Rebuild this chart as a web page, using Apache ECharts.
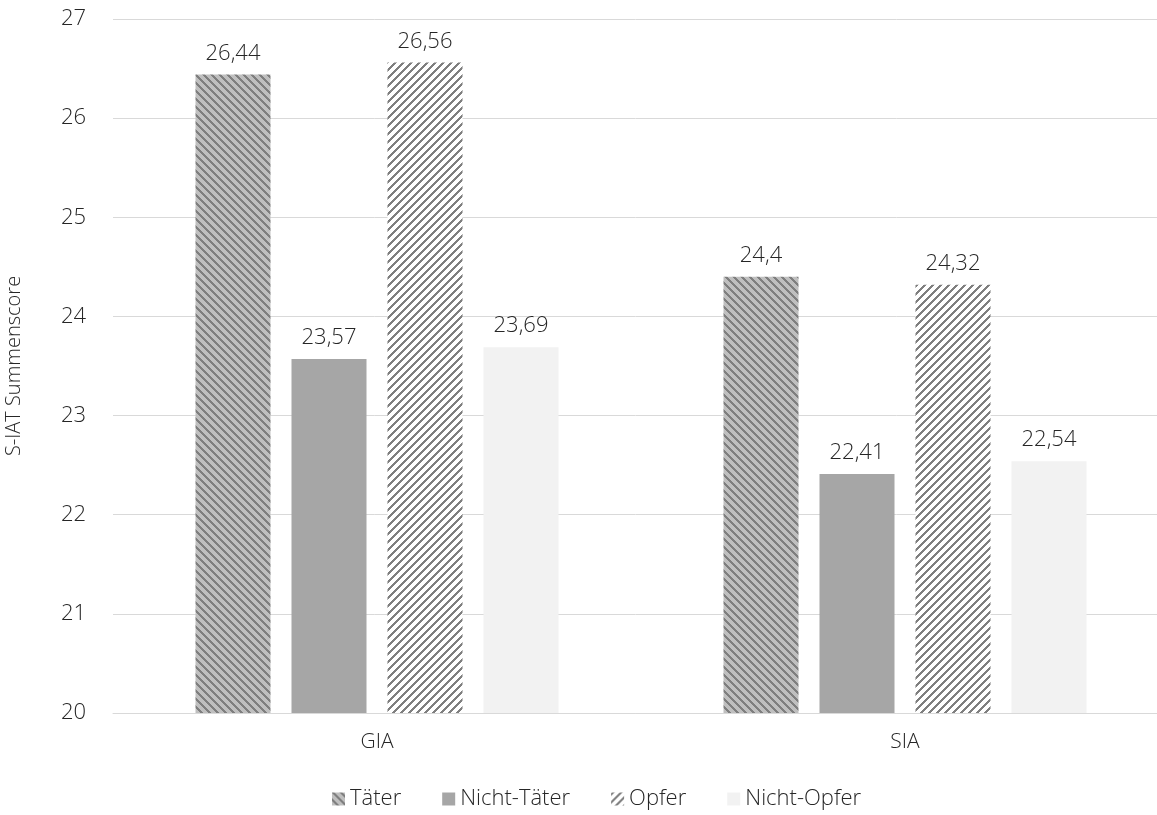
<!DOCTYPE html>
<html><head><meta charset="utf-8">
<script src="https://cdn.jsdelivr.net/npm/echarts@6/dist/echarts.min.js"></script>
<style>html,body{margin:0;padding:0;background:#fff}#c{width:1157px;height:815px}</style>
</head><body><div id="c"></div>
<script>
const categories = ['GIA', 'SIA'];
const seriesNames = ['Täter', 'Nicht-Täter', 'Opfer', 'Nicht-Opfer'];
const taeter = [26.44, 24.4];
const nichtTaeter = [23.57, 22.41];
const opfer = [26.56, 24.32];
const nichtOpfer = [23.69, 22.54];
const yTicks = [20, 21, 22, 23, 24, 25, 26, 27];

function stripe(bg, fg, dir, w) {
  const n = 8;
  const c = document.createElement('canvas');
  c.width = n; c.height = n;
  const ctx = c.getContext('2d');
  const img = ctx.createImageData(n, n);
  const p = h => [parseInt(h.substr(1,2),16), parseInt(h.substr(3,2),16), parseInt(h.substr(5,2),16)];
  const B = p(bg), F = p(fg);
  for (let y = 0; y < n; y++) for (let x = 0; x < n; x++) {
    const k = dir > 0 ? ((x - y) % n + n) % n : (x + y) % n;
    const col = k < w ? F : B;
    const i = (y * n + x) * 4;
    img.data[i] = col[0]; img.data[i+1] = col[1]; img.data[i+2] = col[2]; img.data[i+3] = 255;
  }
  ctx.putImageData(img, 0, 0);
  return { image: c, repeat: 'repeat' };
}

const fills = [
  stripe('#bfbfbf', '#7f7f7f', 1, 3),
  '#a6a6a6',
  stripe('#ffffff', '#7f7f7f', -1, 3),
  '#f2f2f2'
];
const values = [taeter, nichtTaeter, opfer, nichtOpfer];
const font = '"Open Sans", "Segoe UI", sans-serif';
const txt = '#262626';

const chart = echarts.init(document.getElementById('c'));
chart.setOption({
  animation: false,
  textStyle: { fontFamily: font },
  grid: { left: 113, width: 1056, top: 19, bottom: 102, outerBoundsMode: 'none', containLabel: false },
  legend: {
    bottom: 0, left: 327, itemWidth: 13, itemHeight: 13, itemGap: 41,
    icon: 'rect',
    textStyle: { fontSize: 22, color: txt, fontWeight: 300, fontFamily: font },
    data: seriesNames
  },
  xAxis: {
    type: 'category', data: categories,
    axisLine: { lineStyle: { color: '#d9d9d9', width: 1 } },
    axisTick: { show: false },
    axisLabel: { fontSize: 21, color: txt, margin: 19, fontWeight: 300 }
  },
  yAxis: {
    type: 'value', min: 20, max: 27, interval: 1,
    name: 'S-IAT Summenscore', nameLocation: 'middle', nameGap: 89,
    nameTextStyle: { fontSize: 20, color: txt, fontWeight: 300 },
    axisLabel: { fontSize: 22, color: txt, margin: 27, fontWeight: 300,
      formatter: v => yTicks.includes(v) ? String(v) : '' },
    splitLine: { lineStyle: { color: '#d9d9d9', width: 1 } },
    axisLine: { show: false }, axisTick: { show: false }
  },
  series: seriesNames.map((n, i) => ({
    name: n, type: 'bar', data: values[i],
    barWidth: 75, barGap: '28%', barCategoryGap: '31%',
    itemStyle: { color: fills[i] },
    label: { show: true, position: 'top', distance: 10, fontSize: 22, color: txt, fontWeight: 300,
      formatter: p => String(p.value).replace('.', ',') }
  }))
});
</script></body></html>
